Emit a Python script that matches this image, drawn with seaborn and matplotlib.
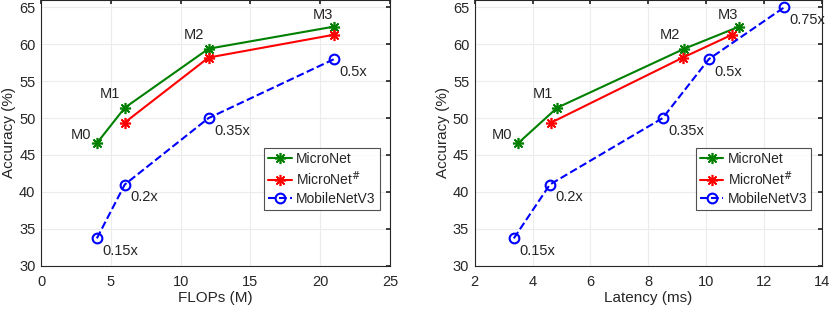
import numpy as np
import pandas as pd
import matplotlib
matplotlib.use("Agg")
import matplotlib.pyplot as plt
import seaborn as sns

sns.set_theme(style="whitegrid")
plt.rcParams['font.family'] = ['Liberation Sans', 'DejaVu Sans']

# data
micronet_flops = [4, 6, 12, 21]
micronet_lat = [3.5, 4.85, 9.25, 11.15]
micronet_acc = [46.6, 51.4, 59.4, 62.4]
micronet_names = ['M0', 'M1', 'M2', 'M3']

micronet2_flops = [6, 12, 21]
micronet2_lat = [4.65, 9.2, 10.9]
micronet2_acc = [49.4, 58.2, 61.3]

mbv3_flops = [4, 6, 12, 21]
mbv3_flops_acc = [33.7, 41.0, 50.0, 58.0]
mbv3_lat = [3.35, 4.6, 8.5, 10.1, 12.7]
mbv3_lat_acc = [33.7, 41.0, 50.0, 58.0, 65.0]
mbv3_names = ['0.15x', '0.2x', '0.35x', '0.5x', '0.75x']

fig = plt.figure(figsize=(8.3, 3.11), dpi=100)
ax1 = fig.add_axes([0.0494, 0.1457, 0.4206, 0.8543])
ax2 = fig.add_axes([0.572, 0.1457, 0.418, 0.8543])

star = (8, 2, 0)

def draw(ax, mx, m2x, vx, vacc):
    sns.lineplot(x=mx, y=micronet_acc, ax=ax, color='#008000', marker=star,
                 markersize=8, markeredgewidth=1.2, markeredgecolor='#008000',
                 linewidth=1.5, label='MicroNet')
    sns.lineplot(x=m2x, y=micronet2_acc, ax=ax, color='#ff0000', marker=star,
                 markersize=8, markeredgewidth=1.2, markeredgecolor='#ff0000',
                 linewidth=1.5, label='MicroNet$^{\\#}$')
    sns.lineplot(x=vx, y=vacc, ax=ax, color='#0000ff', marker='o',
                 markersize=7, markerfacecolor='none', markeredgecolor='#0000ff',
                 markeredgewidth=1.5, linewidth=1.5, linestyle='--',
                 label='MobileNetV3')
    # labels for MicroNet models
    offs = [(-4, 1), (-3, 5), (-3, 5), (-1, 3)]
    for x, y, t, (dx, dy) in zip(mx, micronet_acc, micronet_names, offs):
        ax.annotate(t, (x, y), xytext=(dx, dy), textcoords='offset points',
                    ha='right', va='bottom', fontsize=10.5)
    for x, y, t in zip(vx, vacc, mbv3_names):
        ax.annotate(t, (x, y), xytext=(4, -4), textcoords='offset points',
                    ha='left', va='top', fontsize=10.5)

    ax.set_ylim(30, 66)
    ax.set_yticks(np.arange(30, 66, 5))
    ax.set_ylabel('Accuracy (%)', fontsize=11, labelpad=2)
    ax.tick_params(direction='in', length=3, labelsize=10.5,
                   top=True, right=True, color='#262626')
    ax.tick_params(axis='x', pad=7)
    ax.tick_params(axis='y', pad=4)
    ax.grid(True, color='#ececec', linewidth=0.8)
    for s in ax.spines.values():
        s.set_color('#262626')
        s.set_linewidth(0.8)
    leg = ax.legend(loc='lower right', bbox_to_anchor=(0.97, 0.21),
                    fontsize=10, frameon=True, fancybox=False,
                    borderpad=0.3, labelspacing=0.25, handlelength=1.7,
                    handletextpad=0.3, borderaxespad=0)
    leg.get_frame().set_edgecolor('#262626')
    leg.get_frame().set_linewidth(0.8)

draw(ax1, micronet_flops, micronet2_flops, mbv3_flops, mbv3_flops_acc)
ax1.set_xlim(0, 25)
ax1.set_xticks(np.arange(0, 26, 5))
ax1.set_xlabel('FLOPs (M)', fontsize=11, labelpad=1)

draw(ax2, micronet_lat, micronet2_lat, mbv3_lat, mbv3_lat_acc)
ax2.set_xlim(2, 14)
ax2.set_xticks(np.arange(2, 15, 2))
ax2.set_xlabel('Latency (ms)', fontsize=11, labelpad=1)

fig.savefig('out.png', dpi=100)
